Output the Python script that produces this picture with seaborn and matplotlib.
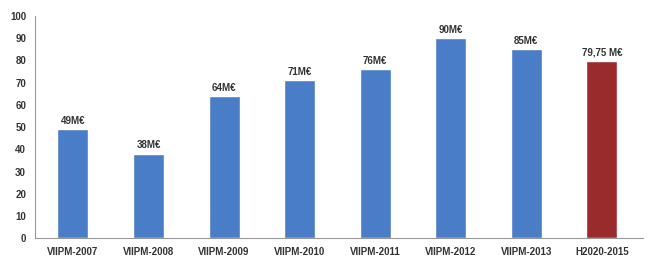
import matplotlib
matplotlib.use("Agg")
import matplotlib.pyplot as plt
import seaborn as sns
import pandas as pd

# data
programmes = ["VIIPM-2007", "VIIPM-2008", "VIIPM-2009", "VIIPM-2010",
              "VIIPM-2011", "VIIPM-2012", "VIIPM-2013", "H2020-2015"]
budget = [49, 38, 64, 71, 76, 90, 85, 79.75]
bar_labels = ["49M€", "38M€", "64M€", "71M€", "76M€", "90M€", "85M€", "79,75 M€"]
bar_colors = ["#4a7dc8"] * 7 + ["#9a2b2d"]

df = pd.DataFrame({"programme": programmes, "budget": budget})

sns.set_style("white")
plt.rcParams["font.family"] = ["Liberation Sans", "DejaVu Sans"]

fig, ax = plt.subplots(figsize=(6.5, 2.62), dpi=100)
sns.barplot(data=df, x="programme", y="budget", hue="programme",
            palette=bar_colors, width=0.41, legend=False, ax=ax, saturation=1)

# value labels above the bars
for i, (v, lab) in enumerate(zip(budget, bar_labels)):
    ax.text(i, v + 1.5, lab, ha="center", va="bottom", fontsize=7,
            fontweight="bold", color="#333333")

ax.set_ylim(0, 100)
ax.set_yticks(range(0, 101, 10))
ax.set_xlim(-0.5, len(programmes) - 0.45)
ax.set_xlabel("")
ax.set_ylabel("")
ax.tick_params(axis="both", labelsize=7, colors="#333333", length=3)
ax.tick_params(axis="x", length=0, pad=6)
for lab in ax.get_xticklabels() + ax.get_yticklabels():
    lab.set_fontweight("bold")

# small separators between categories on the x axis
ax.set_xticks([i + 0.5 for i in range(len(programmes) - 1)], minor=True)
ax.tick_params(axis="x", which="minor", length=2, color="#999999")

sns.despine(ax=ax, top=True, right=True)
ax.spines["left"].set_color("#999999")
ax.spines["bottom"].set_color("#999999")

plt.subplots_adjust(left=0.054, right=0.99, top=0.94, bottom=0.09)
fig.savefig("out.png", dpi=100)
